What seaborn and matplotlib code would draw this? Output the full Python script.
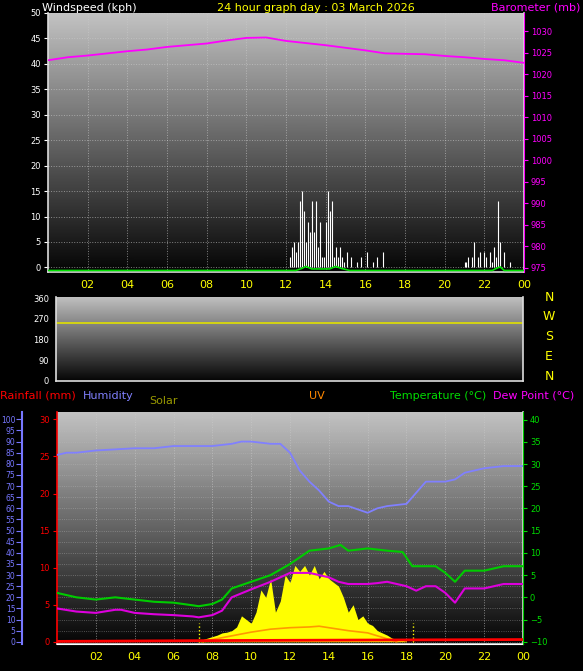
import numpy as np
import pandas as pd
import matplotlib
matplotlib.use("Agg")
import matplotlib.pyplot as plt
import seaborn as sns

sns.set_style("dark")
plt.rcParams['font.family'] = ['DejaVu Sans']

# ---------------- data ----------------
baro_hours = [0, 1, 2, 3, 4, 5, 6, 7, 8, 9, 10, 11, 12, 13, 14, 15, 16, 17, 18, 19, 20, 21, 22, 23, 24]
baro_mb = [1023.3, 1024.0, 1024.4, 1024.9, 1025.4, 1025.8, 1026.4, 1026.8, 1027.2, 1027.9, 1028.5, 1028.6, 1027.8, 1027.3, 1026.8, 1026.2, 1025.6, 1024.9, 1024.8, 1024.7, 1024.3, 1024.0, 1023.6, 1023.3, 1022.7]

gust_hours = [12.2, 12.3, 12.4, 12.5, 12.6, 12.7, 12.8, 12.9, 13.0, 13.1, 13.2, 13.3, 13.4, 13.5, 13.6, 13.7, 13.8, 13.9,
              14.0, 14.1, 14.2, 14.3, 14.4, 14.5, 14.6, 14.7, 14.8, 14.9, 15.1, 15.3, 15.6, 15.8, 16.1, 16.4, 16.6, 16.9,
              21.0, 21.1, 21.2, 21.4, 21.5, 21.7, 21.8, 22.0, 22.1, 22.3, 22.4, 22.5, 22.6, 22.7, 22.8, 23.0, 23.3]
gust_kph = [2, 4, 5, 3, 5, 13, 15, 11, 5, 9, 7, 13, 7, 13, 4, 9, 2, 2,
            9, 15, 11, 13, 2, 4, 2, 4, 2, 1, 3, 2, 1, 2, 3, 1, 2, 3,
            1, 1, 2, 2, 5, 2, 3, 3, 2, 3, 1, 4, 2, 13, 5, 3, 1]

avg_hours = [0, 12.5, 12.8, 13.0, 13.3, 13.6, 14.2, 14.5, 14.8, 15.2, 22.4, 22.6, 22.8, 23.0, 24]
avg_kph = [-0.6, -0.6, -0.2, 0.2, -0.3, -0.3, -0.3, 0.2, -0.2, -0.6, -0.6, -0.2, 0.1, -0.6, -0.6]

dir_hours = [0, 24]
dir_deg = [250, 250]

hum_hours = [0, 0.5, 1, 2, 3, 4, 5, 6, 7, 8, 9, 9.5, 10, 11, 11.5, 12, 12.5, 13, 13.5, 14, 14.5, 15, 16, 16.5, 17, 18, 18.5, 19, 20, 20.5, 21, 22, 23, 24]
hum_pct = [84, 85, 85, 86, 86.5, 87, 87, 88, 88, 88, 89, 90, 90, 89, 89, 85, 77, 72, 68, 63, 61, 61, 58, 60, 61, 62, 67, 72, 72, 73, 76, 78, 79, 79]

temp_hours = [0, 1, 2, 3, 4, 5, 6, 7, 7.3, 8, 8.5, 9, 10, 11, 12, 12.5, 13, 14, 14.6, 15, 16, 17, 17.8, 18.3, 19, 19.5, 20, 20.5, 21, 22, 22.5, 23, 24]
temp_c = [1, 0, -0.5, 0, -0.5, -1, -1.2, -1.8, -2, -1.5, -0.5, 2, 3.5, 5, 7.5, 9, 10.5, 11, 11.8, 10.5, 11, 10.5, 10.2, 7, 7, 7, 5.5, 3.5, 6, 6, 6.5, 7, 7]

dew_hours = [0, 1, 2, 3, 3.3, 4, 5, 6, 7, 7.3, 8, 8.5, 9, 10, 11, 12, 13, 14, 14.5, 15, 16, 16.5, 17, 18, 18.5, 19, 19.5, 20, 20.5, 21, 22, 23, 24]
dew_c = [-2.5, -3.2, -3.5, -2.8, -2.8, -3.5, -3.8, -4, -4.3, -4.5, -4, -3, 0, 1.8, 3.5, 5.5, 5.5, 4.5, 3.5, 3, 3, 3.2, 3.5, 2.5, 1.5, 2.5, 2.5, 1, -1.2, 2, 2, 3, 3]

solar_hours = np.round(np.arange(7.25, 18.01, 0.25), 2).tolist()
solar_val = [0.1, 0.3, 0.5, 0.7, 0.9, 1.2, 1.3, 1.5, 2.0, 3.5, 3.0, 2.5, 4.0, 7.0, 6.0, 8.5, 4.0, 5.5, 9.0, 8.0, 10.3, 9.5, 10.3, 9.0,
             10.3, 8.5, 9.5, 8.5, 8.0, 7.5, 6.0, 4.0, 5.0, 3.0, 3.5, 2.5, 2.2, 1.5, 1.2, 0.9, 0.5, 0.3, 0.2, 0.1]

uv_hours = [7.5, 8, 9, 10, 11, 12, 13, 13.5, 14, 15, 16, 16.5, 17, 17.5]
uv_val = [0, 0.3, 0.8, 1.3, 1.7, 1.9, 2.0, 2.1, 1.9, 1.5, 1.2, 0.8, 0.4, 0]

rain_hours = [0, 9.2, 9.2, 24]
rain_mm = [0.05, 0.05, 0.3, 0.3]

sun_lines = [7.33, 18.33]

xt = list(range(2, 25, 2))
xt_labels = ["02", "04", "06", "08", "10", "12", "14", "16", "18", "20", "22", "00"]

# --------------- figure ---------------
W, H = 583, 671
fig = plt.figure(figsize=(W / 100, H / 100), dpi=100, facecolor="black")

def box(l, t, r, b):
    return [l / W, 1 - b / H, (r - l) / W, (b - t) / H]

grad = np.linspace(0.76, 0.02, 256).reshape(-1, 1)

def style(ax, xlab=True):
    ax.set_facecolor("black")
    ax.imshow(grad, aspect="auto", cmap="gray", vmin=0, vmax=1,
              extent=[0, 24, 0, 1], transform=ax.transAxes, zorder=0)
    ax.set_xlim(0, 24)
    ax.set_xticks(xt)
    ax.set_xticklabels(xt_labels if xlab else [])
    ax.tick_params(axis="x", colors="#ffff00", labelsize=8, length=0, pad=6)
    ax.grid(True, color="#cccccc", linestyle=":", linewidth=0.7, alpha=0.6)
    for s in ax.spines.values():
        s.set_color("#dddddd")
        s.set_linewidth(1.2)
    ax.spines["top"].set_visible(False)
    ax.set_xlabel("")
    ax.set_ylabel("")

# ---- top: wind & barometer ----
ax1 = fig.add_axes(box(48, 13, 524, 272))
style(ax1)
ax1.set_ylim(-0.9, 50)
ax1.set_yticks(range(0, 51, 5))
ax1.tick_params(axis="y", colors="white", labelsize=6, length=3, pad=2)
ax1.vlines(gust_hours, 0, gust_kph, colors="white", linewidth=0.8, zorder=3)
sns.lineplot(x=avg_hours, y=avg_kph, ax=ax1, color="#00e000", linewidth=1.2, zorder=4)
ax1.set_ylim(-0.9, 50)
ax1.set_xlabel(""); ax1.set_ylabel("")
ax1b = ax1.twinx()
ax1b.set_ylim(974.0, 1034.3)
ax1b.set_yticks(range(975, 1031, 5))
ax1b.tick_params(axis="y", colors="#ff00ff", labelsize=6, length=3, pad=2)
for s in ax1b.spines.values():
    s.set_visible(False)
ax1b.spines["right"].set_visible(True)
ax1b.spines["right"].set_color("#ff00ff")
sns.lineplot(x=baro_hours, y=baro_mb, ax=ax1b, color="#ff00ff", linewidth=1.3)
ax1b.set_ylim(974.0, 1034.3)
ax1b.set_xlabel(""); ax1b.set_ylabel("")

fig.text(42 / W, 1 - 8 / H, "Windspeed (kph)", color="white", fontsize=8, va="center")
fig.text(316 / W, 1 - 8 / H, "24 hour graph day : 03 March 2026", color="#ffff00", fontsize=8, va="center", ha="center")
fig.text(580 / W, 1 - 8 / H, "Barometer (mb)", color="#ff00ff", fontsize=8, va="center", ha="right")

# ---- middle: wind direction ----
ax2 = fig.add_axes(box(56, 297, 523, 381))
style(ax2, xlab=False)
ax2.set_ylim(0, 365)
ax2.set_yticks(range(0, 361, 90))
ax2.tick_params(axis="y", colors="white", labelsize=6, length=3, pad=2)
ax2.grid(False)
sns.lineplot(x=dir_hours, y=dir_deg, ax=ax2, color="#e0e000", linewidth=1.2)
ax2.set_xlabel(""); ax2.set_ylabel("")
for lab, yy in zip(["N", "W", "S", "E", "N"], [297, 316, 336, 356, 376]):
    fig.text(549 / W, 1 - yy / H, lab, color="#ffff00", fontsize=9, va="center", ha="center")

# ---- bottom: rain, humidity, solar, temp ----
ax3 = fig.add_axes(box(57, 412, 523, 644))
style(ax3)
ax3.set_ylim(-0.3, 31)
ax3.set_yticks(range(0, 31, 5))
ax3.tick_params(axis="y", colors="#ff0000", labelsize=6, length=3, pad=2)
ax3.spines["left"].set_color("#ff0000")
ax3.grid(False)
ax3.grid(True, axis="x", color="#cccccc", linestyle=":", linewidth=0.7, alpha=0.6)
for yy in np.arange(0, 31, 1.5):
    ax3.axhline(yy, color="#bbbbbb", linestyle=":", linewidth=0.6, alpha=0.5, zorder=1)
ax3.fill_between(solar_hours, 0, solar_val, color="#ffff00", zorder=2, linewidth=0)
sns.lineplot(x=uv_hours, y=uv_val, ax=ax3, color="#ff9900", linewidth=1.2, zorder=3)
sns.lineplot(x=rain_hours, y=rain_mm, ax=ax3, color="#ff0000", linewidth=2, zorder=4)
ax3.vlines(sun_lines, 0, 2.6, colors="#ffff00", linestyles=":", linewidth=1, zorder=3)
ax3.set_ylim(-0.3, 31)
ax3.set_xlabel(""); ax3.set_ylabel("")

ax3h = ax3.twinx()
ax3h.spines["left"].set_visible(True)
ax3h.spines["left"].set_position(("outward", 25))
ax3h.spines["left"].set_color("#7777ff")
ax3h.spines["left"].set_linewidth(1.5)
ax3h.spines["right"].set_visible(False)
ax3h.spines["top"].set_visible(False)
ax3h.yaxis.set_ticks_position("left")
ax3h.yaxis.set_label_position("left")
ax3h.set_ylim(-1, 103.3)
ax3h.set_yticks(range(0, 101, 5))
ax3h.tick_params(axis="y", colors="#7777ff", labelsize=5.5, length=4, pad=1)
sns.lineplot(x=hum_hours, y=hum_pct, ax=ax3h, color="#8080ff", linewidth=1.3)
ax3h.set_ylim(-1, 103.3)
ax3h.set_xlabel(""); ax3h.set_ylabel("")

ax3t = ax3.twinx()
for s in ax3t.spines.values():
    s.set_visible(False)
ax3t.spines["right"].set_visible(True)
ax3t.spines["right"].set_color("#00cc00")
ax3t.set_ylim(-10.5, 41.7)
ax3t.set_yticks(range(-10, 41, 5))
ax3t.tick_params(axis="y", colors="#00dd00", labelsize=6, length=3, pad=2)
sns.lineplot(x=temp_hours, y=temp_c, ax=ax3t, color="#00cc00", linewidth=1.5)
sns.lineplot(x=dew_hours, y=dew_c, ax=ax3t, color="#dd00dd", linewidth=1.5)
ax3t.set_ylim(-10.5, 41.7)
ax3t.set_xlabel(""); ax3t.set_ylabel("")

ty = 1 - 396 / H
fig.text(0.0, ty, "Rainfall (mm)", color="#ff0000", fontsize=8, va="center")
fig.text(83 / W, ty, "Humidity", color="#8080ff", fontsize=8, va="center")
fig.text(149 / W, 1 - 401 / H, "Solar", color="#999900", fontsize=8, va="center")
fig.text(317 / W, ty, "UV", color="#ff8800", fontsize=8, va="center", ha="center")
fig.text(390 / W, ty, "Temperature (°C)", color="#00dd00", fontsize=8, va="center")
fig.text(493 / W, ty, "Dew Point (°C)", color="#ff00ff", fontsize=8, va="center")

fig.savefig("out.png", dpi=100, facecolor="black")
